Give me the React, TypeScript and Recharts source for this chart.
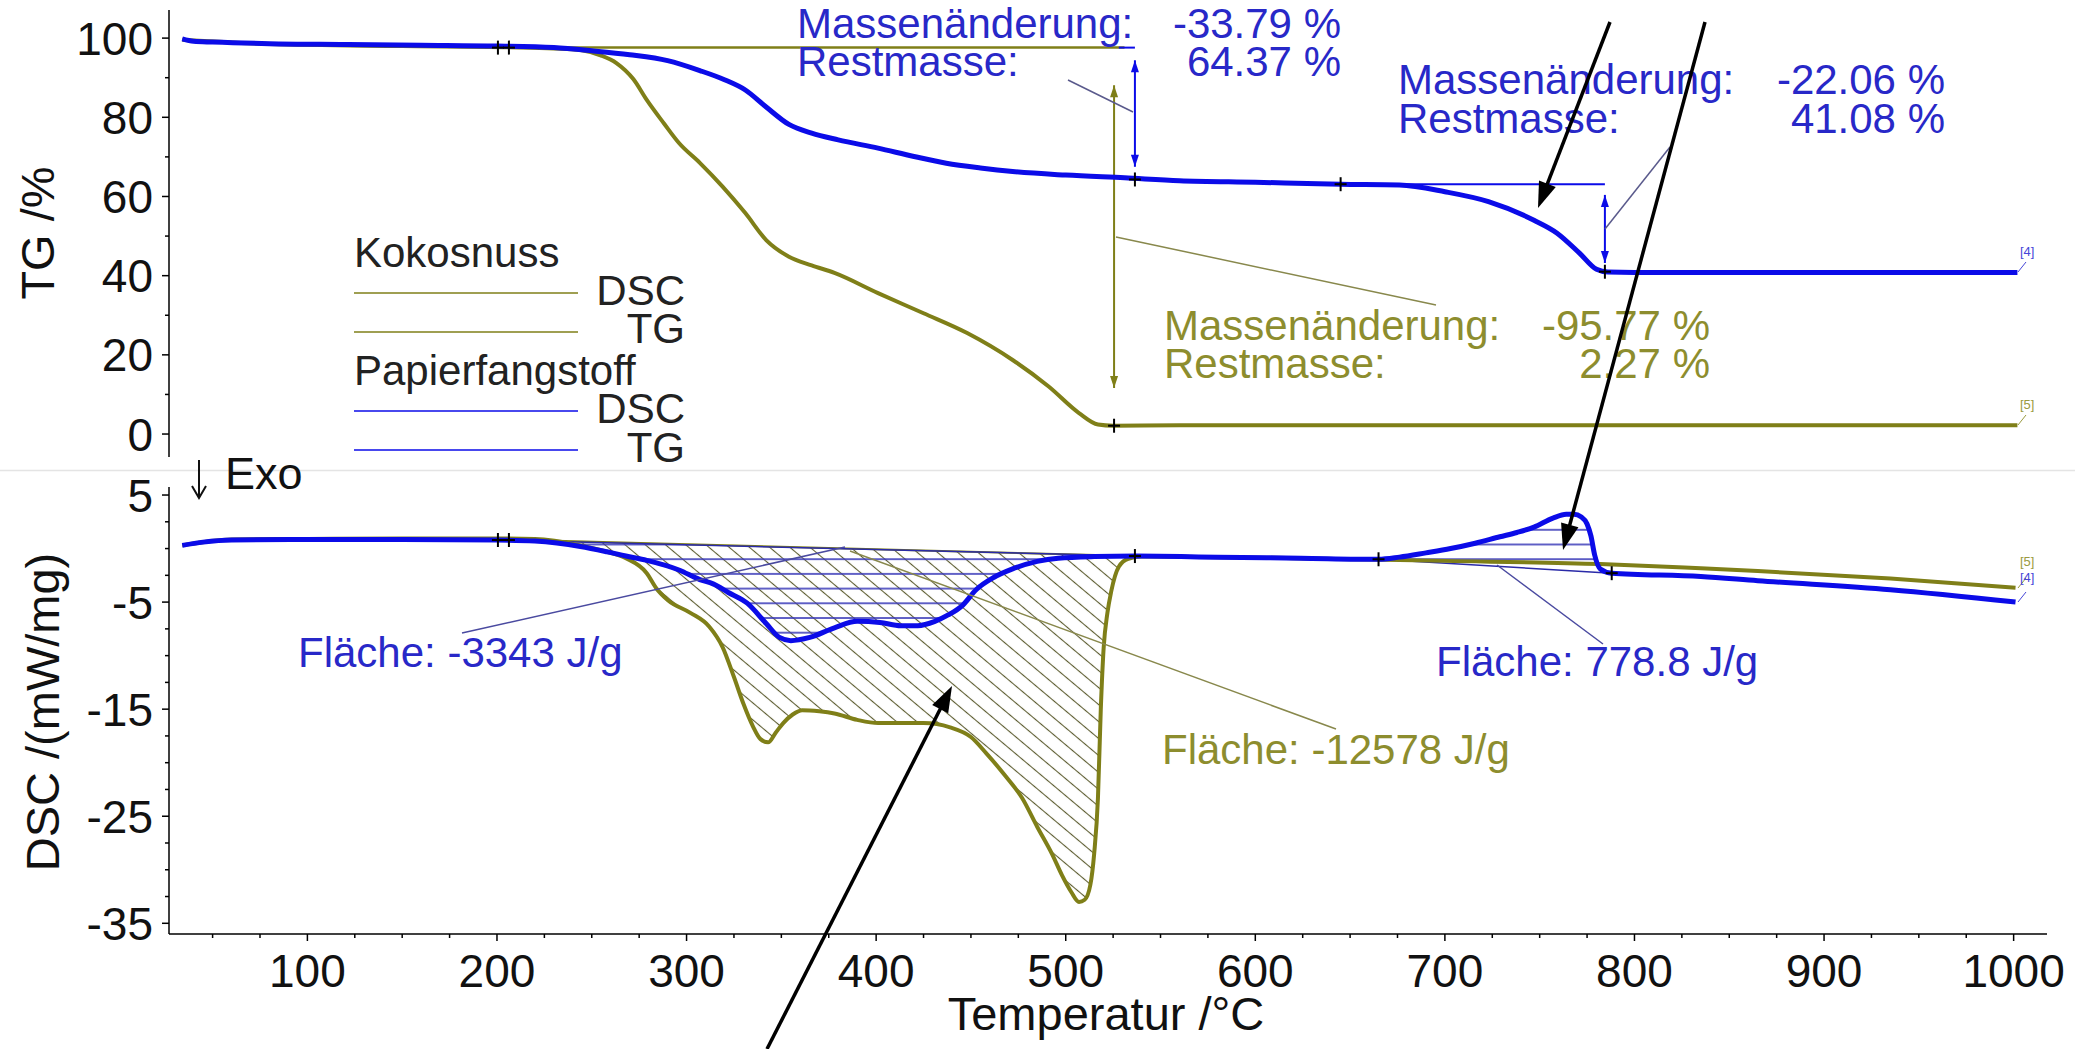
import React from 'react'
import {
  ComposedChart,
  Line,
  Area,
  XAxis,
  YAxis,
  ReferenceLine,
  ReferenceDot,
} from 'recharts'

const FONT = '"Liberation Sans", Arial, Helvetica, sans-serif'
const BLUE = '#0b0be8'
const BLUE_TEXT = '#2828c8'
const OLIVE = '#7f7f18'
const OLIVE_TEXT = '#8d8d2e'
const OLIVE_THIN = '#88884c'

// axis ticks
const xTicks = Array.from({ length: 39 }, (_, i) => 50 + i * 25)
const xLabels = [100, 200, 300, 400, 500, 600, 700, 800, 900, 1000]
const tgTicks = [0, 10, 20, 30, 40, 50, 60, 70, 80, 90, 100]
const tgLabels = [0, 20, 40, 60, 80, 100]
const dscTicks = [-35, -32.5, -30, -27.5, -25, -22.5, -20, -17.5, -15, -12.5, -10, -7.5, -5, -2.5, 0, 2.5, 5]
const dscLabels = [-35, -25, -15, -5, 5]

// TG /% (Papierfangstoff)
const tgPapierT = [34, 40, 50, 80, 120, 160, 200, 230, 250, 270, 290, 307, 320, 331, 342, 354, 366, 380, 401, 420, 437, 455, 472, 500, 531, 560, 600, 645, 676, 700, 723, 747, 759, 771, 780, 786, 800, 850, 900, 950, 1002]
const tgPapierV = [99.8, 99.2, 99.0, 98.6, 98.4, 98.2, 98.0, 97.6, 96.8, 95.8, 94.3, 91.8, 89.5, 86.9, 82.6, 78.2, 76.0, 74.3, 72.2, 70.1, 68.4, 67.2, 66.3, 65.4, 64.7, 64.0, 63.6, 63.1, 62.9, 61.2, 58.7, 54.0, 50.8, 45.7, 41.6, 40.9, 40.8, 40.8, 40.8, 40.8, 40.8]

// TG /% (Kokosnuss)
const tgKokosT = [34, 80, 150, 206, 230, 244, 255, 263, 272, 279, 288, 296, 307, 319, 331, 342, 354, 366, 378, 401, 425, 448, 472, 491, 507, 517, 525, 560, 650, 750, 850, 950, 1002]
const tgKokosV = [99.6, 98.5, 98.0, 97.7, 97.4, 97.0, 95.6, 93.7, 89.6, 84.4, 78.5, 73.5, 68.5, 62.5, 55.8, 49.0, 44.8, 42.6, 40.7, 35.6, 30.5, 25.5, 18.7, 12.0, 5.3, 2.4, 2.1, 2.2, 2.2, 2.2, 2.2, 2.2, 2.2]

// DSC /(mW/mg) (Papierfangstoff)
const dscPapierT = [34, 45, 60, 100, 150, 200, 220, 244, 258, 268, 279, 296, 307, 314, 322, 332, 342, 349, 355, 365, 378, 390, 402, 413, 422, 431, 438, 445, 453, 462, 472, 485, 496, 515, 537, 580, 624, 665, 676, 690, 703, 716, 729, 738, 747, 757, 764, 768, 772, 775, 777, 779, 782, 788, 835, 865, 935, 1001]
const dscPapierV = [0.3, 0.6, 0.8, 0.85, 0.85, 0.8, 0.7, 0.2, -0.3, -0.7, -1.1, -2.0, -2.9, -3.3, -4.1, -5.1, -7.0, -8.3, -8.6, -8.3, -7.4, -6.8, -6.9, -7.2, -7.2, -6.8, -6.2, -5.4, -3.8, -2.7, -1.9, -1.2, -0.9, -0.75, -0.7, -0.8, -0.9, -1.0, -0.8, -0.4, 0.0, 0.5, 1.1, 1.5, 2.0, 2.85, 3.2, 3.2, 2.95, 2.3, 1.2, -0.6, -1.9, -2.3, -2.6, -3.0, -3.85, -5.0]

// DSC /(mW/mg) (Kokosnuss)
const dscKokosT = [34, 60, 100, 150, 200, 220, 244, 258, 268, 279, 284, 290, 302, 312, 319, 325, 330, 335, 339, 343, 347, 351, 356, 361, 370, 378, 390, 401, 413, 425, 439, 450, 458, 468, 477, 485, 493, 498, 503, 507, 510, 513, 515, 517, 518.5, 520, 522, 524, 528, 533, 540, 580, 620, 700, 782, 835, 865, 935, 1001]
const dscKokosV = [0.3, 0.85, 0.9, 0.95, 0.95, 0.9, 0.3, -0.3, -0.9, -2.3, -3.7, -4.8, -6.0, -7.3, -9.2, -12.0, -14.5, -16.6, -17.8, -18.1, -17.2, -16.3, -15.5, -15.1, -15.2, -15.4, -16.0, -16.3, -16.3, -16.3, -16.7, -17.6, -19.1, -21.2, -23.3, -26.0, -28.6, -30.5, -32.1, -33.0, -32.8, -31.4, -28.5, -23.3, -15.0, -9.3, -6.0, -4.0, -1.7, -0.95, -0.75, -0.8, -0.9, -1.15, -1.45, -1.85, -2.1, -2.8, -3.65]

// integration baselines (start / end markers)
const baseKokosT = [206, 537]
const baseKokosV = [0.85, -0.7]
const basePapierT = [200, 537]
const basePapierV = [0.8, -0.7]
const baseExoT = [665, 788]
const baseExoV = [-1.0, -2.3]

const zip = (ts: number[], vs: number[]) => ts.map((T, i) => ({ T, v: vs[i] }))

// hatched region between curve and straight baseline
const band = (ts: number[], vs: number[], bt: number[], bv: number[]) => {
  const at = (T: number) => bv[0] + ((bv[1] - bv[0]) * (T - bt[0])) / (bt[1] - bt[0])
  const inner = ts
    .map((T, i) => ({ T, band: [vs[i], at(T)] }))
    .filter((d) => d.T > bt[0] && d.T < bt[1])
  return [{ T: bt[0], band: [bv[0], bv[0]] }, ...inner, { T: bt[1], band: [bv[1], bv[1]] }]
}

const tgPapier = zip(tgPapierT, tgPapierV)
const tgKokos = zip(tgKokosT, tgKokosV)
const dscPapier = zip(dscPapierT, dscPapierV)
const dscKokos = zip(dscKokosT, dscKokosV)
const bandKokos = band(dscKokosT, dscKokosV, baseKokosT, baseKokosV)
const bandPapier = band(dscPapierT, dscPapierV, basePapierT, basePapierV)
const bandExo = band(dscPapierT, dscPapierV, baseExoT, baseExoV)

// layout
const W = 2089
const H = 1049
const TOP_H = 470
const PLOT_LEFT = 169
const PLOT_RIGHT = 2047
const AXIS_W = 80
const X_DOMAIN: [number, number] = [27, 1017.6]
const TG_DOMAIN: [number, number] = [-5.8, 107.1]
const DSC_DOMAIN: [number, number] = [-36, 5.75]

const yTick = (labels: number[]) => (p: any) => {
  const { x, y, payload } = p
  const major = labels.includes(payload.value)
  return (
    <g>
      <line x1={x - (major ? 7 : 4)} x2={x} y1={y} y2={y} stroke="#000" strokeWidth={1.5} />
      {major && (
        <text x={x - 16} y={y} dy="0.36em" textAnchor="end" fontSize={46} fill="#111" fontFamily={FONT}>
          {payload.value}
        </text>
      )}
    </g>
  )
}

const xTick = (p: any) => {
  const { x, y, payload } = p
  const major = xLabels.includes(payload.value)
  return (
    <g>
      <line x1={x} x2={x} y1={y} y2={y + (major ? 7 : 4)} stroke="#000" strokeWidth={1.5} />
      {major && (
        <text x={x} y={y + 53} textAnchor="middle" fontSize={46} fill="#111" fontFamily={FONT}>
          {payload.value}
        </text>
      )}
    </g>
  )
}

const headPoints = (x1: number, y1: number, x2: number, y2: number, len: number, half: number) => {
  const d = Math.hypot(x2 - x1, y2 - y1) || 1
  const ux = (x2 - x1) / d
  const uy = (y2 - y1) / d
  const bx = x2 - ux * len
  const by = y2 - uy * len
  return `${x2},${y2} ${bx - uy * half},${by + ux * half} ${bx + uy * half},${by - ux * half}`
}

const doubleArrow = (color: string) => (p: any) => {
  const { x1, y1, x2, y2 } = p
  return (
    <g>
      <line x1={x1} y1={y1} x2={x2} y2={y2} stroke={color} strokeWidth={2} />
      <polygon points={headPoints(x2, y2, x1, y1, 12, 4)} fill={color} />
      <polygon points={headPoints(x1, y1, x2, y2, 12, 4)} fill={color} />
    </g>
  )
}

const plus = (p: any) => {
  const { cx, cy } = p
  return (
    <g stroke="#000" strokeWidth={2}>
      <line x1={cx - 6} x2={cx + 6} y1={cy} y2={cy} />
      <line x1={cx} x2={cx} y1={cy - 7} y2={cy + 7} />
    </g>
  )
}

const BlackArrow = ({ x1, y1, x2, y2 }: { x1: number; y1: number; x2: number; y2: number }) => {
  const d = Math.hypot(x2 - x1, y2 - y1)
  const bx = x2 - ((x2 - x1) / d) * 20
  const by = y2 - ((y2 - y1) / d) * 20
  return (
    <g>
      <line x1={x1} y1={y1} x2={bx} y2={by} stroke="#000" strokeWidth={3.5} />
      <polygon points={headPoints(x1, y1, x2, y2, 26, 9)} fill="#000" />
    </g>
  )
}

const massNotes = [
  { x: 797, y: 38, right: 1341, label: 'Massenänderung:', value: '-33.79 %', color: BLUE_TEXT },
  { x: 797, y: 76, right: 1341, label: 'Restmasse:', value: '64.37 %', color: BLUE_TEXT },
  { x: 1398, y: 94, right: 1945, label: 'Massenänderung:', value: '-22.06 %', color: BLUE_TEXT },
  { x: 1398, y: 133, right: 1945, label: 'Restmasse:', value: '41.08 %', color: BLUE_TEXT },
  { x: 1164, y: 340, right: 1710, label: 'Massenänderung:', value: '-95.77 %', color: OLIVE_TEXT },
  { x: 1164, y: 378, right: 1710, label: 'Restmasse:', value: '2.27 %', color: OLIVE_TEXT },
]

const areaNotes = [
  { x: 298, y: 667, text: 'Fläche: -3343 J/g', color: BLUE_TEXT },
  { x: 1162, y: 764, text: 'Fläche: -12578 J/g', color: OLIVE_TEXT },
  { x: 1436, y: 676, text: 'Fläche: 778.8 J/g', color: BLUE_TEXT },
]

const leaders = [
  { x1: 1068, y1: 80, x2: 1133, y2: 112, color: '#5a5a8c' },
  { x1: 1116, y1: 237, x2: 1436, y2: 305, color: OLIVE_THIN },
  { x1: 1605, y1: 229, x2: 1670, y2: 147, color: '#5a5a8c' },
  { x1: 462, y1: 633, x2: 845, y2: 547, color: '#4a4aa0' },
  { x1: 850, y1: 551, x2: 1336, y2: 729, color: OLIVE_THIN },
  { x1: 1497, y1: 565, x2: 1603, y2: 644, color: '#4a4aa0' },
]

const legendRows = [
  { text: 'Kokosnuss', y: 267 },
  { text: 'DSC', y: 305, line: 293, color: OLIVE },
  { text: 'TG', y: 343, line: 332, color: OLIVE },
  { text: 'Papierfangstoff', y: 385 },
  { text: 'DSC', y: 423, line: 411, color: BLUE },
  { text: 'TG', y: 462, line: 450, color: BLUE },
]

const endTags = [
  { x: 2018, y: 272, text: '[4]', color: '#4646d8', dy: -16 },
  { x: 2018, y: 425, text: '[5]', color: '#9a9a40', dy: -16 },
  { x: 2018, y: 588, text: '[5]', color: '#9a9a40', dy: -22 },
  { x: 2018, y: 602, text: '[4]', color: '#4646d8', dy: -20 },
]

export default function App() {
  return (
    <div style={{ position: 'absolute', left: 0, top: 0, width: W, height: H, background: '#fff', fontFamily: FONT }}>
      <svg width={0} height={0} style={{ position: 'absolute' }}>
        <defs>
          <pattern id="hatchKokos" patternUnits="userSpaceOnUse" width={13} height={13} patternTransform="rotate(40)">
            <line x1={0} y1={6.5} x2={13} y2={6.5} stroke="#5c5c30" strokeWidth={1.1} />
          </pattern>
          <pattern id="hatchPapier" patternUnits="userSpaceOnUse" width={20} height={14.7}>
            <line x1={0} y1={1} x2={20} y2={1} stroke="#3a3ab8" strokeWidth={1.6} />
          </pattern>
        </defs>
      </svg>

      <div style={{ position: 'absolute', left: 0, top: 0 }}>
        <ComposedChart
          width={W}
          height={TOP_H}
          margin={{ top: 10, right: W - PLOT_RIGHT, bottom: 13, left: PLOT_LEFT - AXIS_W }}
        >
          <XAxis type="number" dataKey="T" domain={X_DOMAIN} allowDataOverflow hide />
          <YAxis
            type="number"
            domain={TG_DOMAIN}
            allowDataOverflow
            ticks={tgTicks}
            interval={0}
            width={AXIS_W}
            tickLine={false}
            tickSize={0}
            tickMargin={0}
            tick={yTick(tgLabels)}
            axisLine={{ stroke: '#000', strokeWidth: 1.5 }}
          />
          <ReferenceLine segment={[{ x: 206.3, y: 97.6 }, { x: 531, y: 97.6 }]} stroke={OLIVE} strokeWidth={2.5} />
          <ReferenceLine segment={[{ x: 528, y: 97.6 }, { x: 536.5, y: 97.6 }]} stroke={BLUE} strokeWidth={2} />
          <ReferenceLine segment={[{ x: 645, y: 63.1 }, { x: 784.4, y: 63.1 }]} stroke={BLUE} strokeWidth={2} />
          <ReferenceLine segment={[{ x: 536.5, y: 94.4 }, { x: 536.5, y: 67.5 }]} shape={doubleArrow(BLUE)} />
          <ReferenceLine segment={[{ x: 525.5, y: 88.1 }, { x: 525.5, y: 11.6 }]} shape={doubleArrow(OLIVE)} />
          <ReferenceLine segment={[{ x: 784.4, y: 60.4 }, { x: 784.4, y: 43.2 }]} shape={doubleArrow(BLUE)} />
          <Line data={tgKokos} dataKey="v" type="monotone" stroke={OLIVE} strokeWidth={4} dot={false} activeDot={false} isAnimationActive={false} />
          <Line data={tgPapier} dataKey="v" type="monotone" stroke={BLUE} strokeWidth={5} dot={false} activeDot={false} isAnimationActive={false} />
          <ReferenceDot x={200.5} y={97.6} r={6} shape={plus} />
          <ReferenceDot x={206.3} y={97.6} r={6} shape={plus} />
          <ReferenceDot x={536.5} y={64.3} r={6} shape={plus} />
          <ReferenceDot x={525.5} y={2.1} r={6} shape={plus} />
          <ReferenceDot x={645} y={63.1} r={6} shape={plus} />
          <ReferenceDot x={784.4} y={41.0} r={6} shape={plus} />
        </ComposedChart>
      </div>

      <div style={{ position: 'absolute', left: 0, top: TOP_H }}>
        <ComposedChart
          width={W}
          height={H - TOP_H}
          margin={{ top: 17, right: W - PLOT_RIGHT, bottom: 55, left: PLOT_LEFT - AXIS_W }}
        >
          <XAxis
            type="number"
            dataKey="T"
            domain={X_DOMAIN}
            allowDataOverflow
            ticks={xTicks}
            interval={0}
            height={60}
            tickLine={false}
            tickSize={0}
            tickMargin={0}
            tick={xTick}
            axisLine={{ stroke: '#000', strokeWidth: 1.5 }}
          />
          <YAxis
            type="number"
            domain={DSC_DOMAIN}
            allowDataOverflow
            ticks={dscTicks}
            interval={0}
            width={AXIS_W}
            tickLine={false}
            tickSize={0}
            tickMargin={0}
            tick={yTick(dscLabels)}
            axisLine={{ stroke: '#000', strokeWidth: 1.5 }}
          />
          <Area data={bandKokos} dataKey="band" type="monotone" stroke="none" fill="url(#hatchKokos)" fillOpacity={1} isAnimationActive={false} activeDot={false} />
          <Area data={bandPapier} dataKey="band" type="monotone" stroke="none" fill="url(#hatchPapier)" fillOpacity={1} isAnimationActive={false} activeDot={false} />
          <Area data={bandExo} dataKey="band" type="monotone" stroke="none" fill="url(#hatchPapier)" fillOpacity={1} isAnimationActive={false} activeDot={false} />
          <ReferenceLine segment={[{ x: baseKokosT[0], y: baseKokosV[0] }, { x: baseKokosT[1], y: baseKokosV[1] }]} stroke={OLIVE} strokeWidth={2} />
          <ReferenceLine segment={[{ x: basePapierT[0], y: basePapierV[0] }, { x: basePapierT[1], y: basePapierV[1] }]} stroke="#2a2aa8" strokeWidth={1.5} />
          <ReferenceLine segment={[{ x: baseExoT[0], y: baseExoV[0] }, { x: baseExoT[1], y: baseExoV[1] }]} stroke="#2a2aa8" strokeWidth={1.5} />
          <Line data={dscKokos} dataKey="v" type="monotone" stroke={OLIVE} strokeWidth={4} dot={false} activeDot={false} isAnimationActive={false} />
          <Line data={dscPapier} dataKey="v" type="monotone" stroke={BLUE} strokeWidth={5} dot={false} activeDot={false} isAnimationActive={false} />
          <ReferenceDot x={200.5} y={0.8} r={6} shape={plus} />
          <ReferenceDot x={206.3} y={0.8} r={6} shape={plus} />
          <ReferenceDot x={536.5} y={-0.7} r={6} shape={plus} />
          <ReferenceDot x={665} y={-1.0} r={6} shape={plus} />
          <ReferenceDot x={788} y={-2.3} r={6} shape={plus} />
        </ComposedChart>
      </div>

      <svg
        width={W}
        height={H}
        style={{ position: 'absolute', left: 0, top: 0, pointerEvents: 'none' }}
        fontFamily={FONT}
      >
        <line x1={0} y1={470.5} x2={2075} y2={470.5} stroke="#e4e4e4" strokeWidth={1.5} />

        <text transform="translate(37,233) rotate(-90)" textAnchor="middle" dominantBaseline="central" fontSize={47} fill="#111">
          TG /%
        </text>
        <text transform="translate(42,712) rotate(-90)" textAnchor="middle" dominantBaseline="central" fontSize={47} fill="#111">
          DSC /(mW/mg)
        </text>
        <text x={1106} y={1030} textAnchor="middle" fontSize={47} fill="#111">
          Temperatur /°C
        </text>

        <g stroke="#111" strokeWidth={2} fill="none">
          <line x1={199} y1={460} x2={199} y2={497} />
          <polyline points="192,486 199,498 206,486" />
        </g>
        <text x={225} y={489} fontSize={45} fill="#111">
          Exo
        </text>

        {legendRows.map((r, i) =>
          r.line ? (
            <g key={i}>
              <line x1={354} x2={578} y1={r.line} y2={r.line} stroke={r.color} strokeWidth={1.5} />
              <text x={685} y={r.y} textAnchor="end" fontSize={42} fill="#222">
                {r.text}
              </text>
            </g>
          ) : (
            <text key={i} x={354} y={r.y} fontSize={42} fill="#222">
              {r.text}
            </text>
          )
        )}

        {leaders.map((l, i) => (
          <line key={i} x1={l.x1} y1={l.y1} x2={l.x2} y2={l.y2} stroke={l.color} strokeWidth={1.5} />
        ))}

        {massNotes.map((n, i) => (
          <g key={i} fill={n.color} fontSize={42}>
            <text x={n.x} y={n.y}>
              {n.label}
            </text>
            <text x={n.right} y={n.y} textAnchor="end">
              {n.value}
            </text>
          </g>
        ))}

        {areaNotes.map((n, i) => (
          <text key={i} x={n.x} y={n.y} fill={n.color} fontSize={42}>
            {n.text}
          </text>
        ))}

        {endTags.map((t, i) => (
          <g key={i}>
            <line x1={t.x} y1={t.y} x2={t.x + 8} y2={t.y - 10} stroke={t.color} strokeWidth={1} />
            <text x={t.x + 2} y={t.y + t.dy} fontSize={13} fill={t.color}>
              {t.text}
            </text>
          </g>
        ))}

        <BlackArrow x1={1610} y1={22} x2={1538} y2={208} />
        <BlackArrow x1={1705} y1={22} x2={1563} y2={550} />
        <BlackArrow x1={767} y1={1049} x2={952} y2={686} />
      </svg>
    </div>
  )
}
